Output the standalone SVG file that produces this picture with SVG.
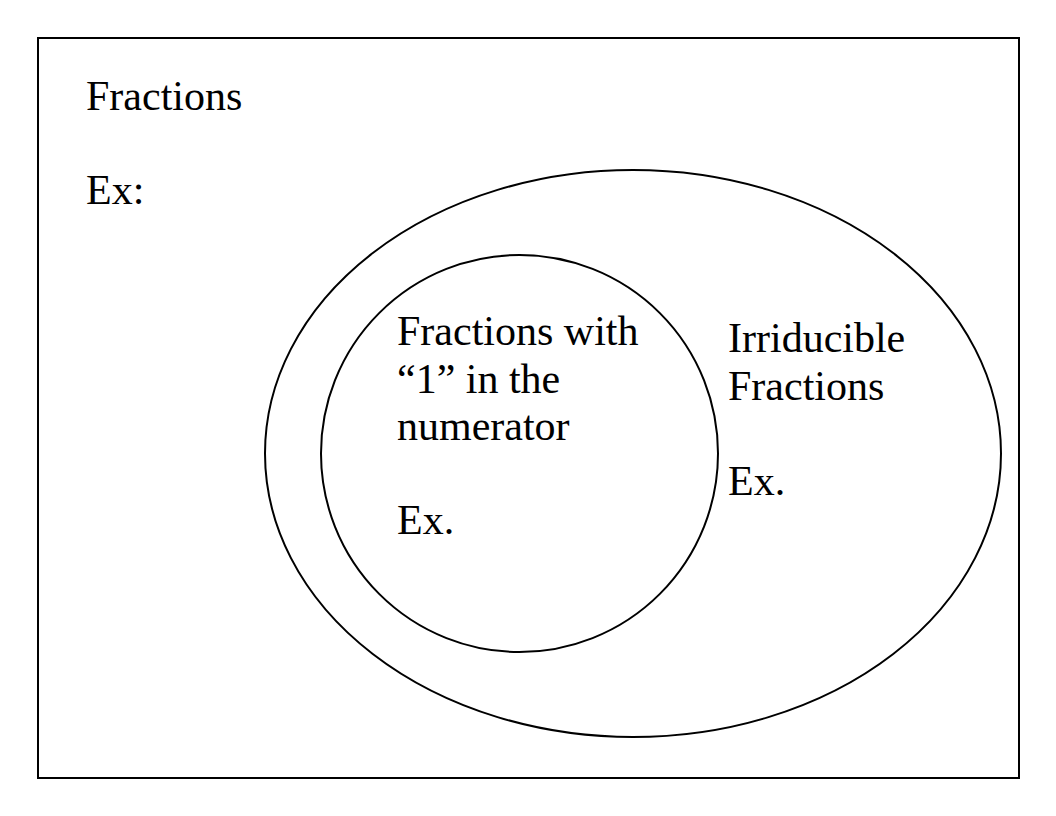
<svg xmlns="http://www.w3.org/2000/svg" width="1056" height="816" viewBox="0 0 1056 816">
<style>
.shape{fill:none;stroke:#000;stroke-width:2}
.t{font-family:"Liberation Serif","Times New Roman",serif;font-size:42px;fill:#000}
</style>
<rect width="1056" height="816" fill="#fff"/>
<g id="universe">
<rect class="shape" x="38" y="38" width="981" height="740"/>
<text class="t" x="86" y="110">Fractions</text>
<text class="t" x="86" y="204">Ex:</text>
</g>
<g id="irreducible">
<ellipse class="shape" cx="633" cy="453.5" rx="368" ry="283.5"/>
<text class="t" x="728" y="352">Irriducible</text>
<text class="t" x="728" y="400">Fractions</text>
<text class="t" x="728" y="495">Ex.</text>
</g>
<g id="unit">
<ellipse class="shape" cx="519.5" cy="453.5" rx="198.5" ry="198.5"/>
<text class="t" x="397" y="345">Fractions with</text>
<text class="t" x="397" y="393">“1” in the</text>
<text class="t" x="397" y="440">numerator</text>
<text class="t" x="397" y="534">Ex.</text>
</g>
<g id="connectors"/>
</svg>
